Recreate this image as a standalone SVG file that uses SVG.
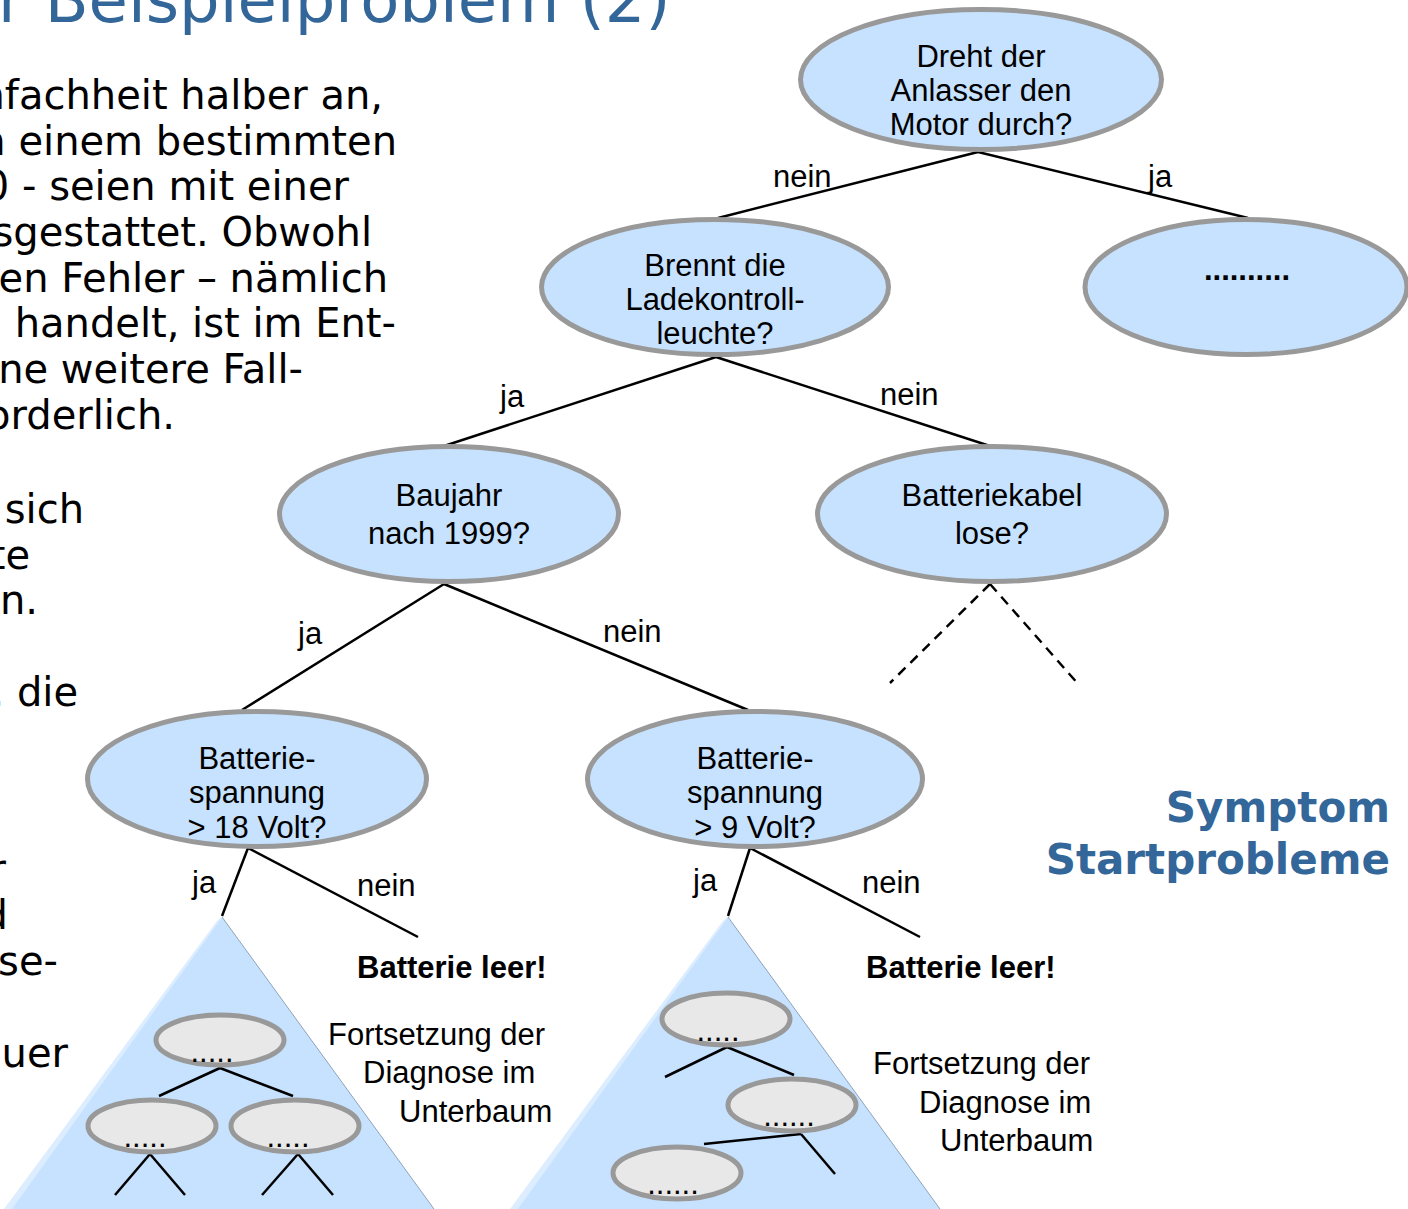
<svg xmlns="http://www.w3.org/2000/svg" width="1408" height="1209" viewBox="0 0 1408 1209">
  <style>
    .body { font-family: "DejaVu Sans", Verdana, sans-serif; font-size: 40px; fill: #000; text-anchor: end; }
    .title { font-family: "DejaVu Sans", Verdana, sans-serif; font-size: 64px; fill: #336699; }
    .symptom { font-family: "DejaVu Sans", Verdana, sans-serif; font-weight: bold; font-size: 42px; fill: #336699; text-anchor: end; }
    .node ellipse { fill: #C6E2FF; stroke: #999999; stroke-width: 5; }
    .sub ellipse { fill: #E8E8E8; stroke: #999999; stroke-width: 5; }
    .lbl { font-family: "Liberation Sans", Arial, sans-serif; font-size: 31px; fill: #000; }
    .c { text-anchor: middle; }
    .b { font-weight: bold; }
    .edge { stroke: #000; stroke-width: 2.5; fill: none; }
    .dash { stroke: #000; stroke-width: 2.5; fill: none; stroke-dasharray: 10 7; }
    .tri { fill: #C6E2FF; }
    .tri-hi { fill: #DCEDFF; }
    .tri-edge { stroke: #8FA3B8; stroke-width: 1; fill: none; }
  </style>

  <!-- slide title (cut at the top) -->
  <text class="title" x="-2" y="22">r Beispielproblem (2)</text>

  <!-- body text column, right edges aligned -->
  <g id="body-text">
    <text class="body" x="383" y="109">nfachheit halber an,</text>
    <text class="body" x="397" y="155">n einem bestimmten</text>
    <text class="body" x="349" y="200">0 - seien mit einer</text>
    <text class="body" x="372" y="246">sgestattet. Obwohl</text>
    <text class="body" x="388" y="292">en Fehler – nämlich</text>
    <text class="body" x="396" y="337">n handelt, ist im Ent-</text>
    <text class="body" x="303" y="383">ne weitere Fall-</text>
    <text class="body" x="175" y="429">orderlich.</text>
    <text class="body" x="84" y="523">sich</text>
    <text class="body" x="30" y="569">te</text>
    <text class="body" x="38" y="614">n.</text>
    <text class="body" x="78" y="706">. die</text>
    <text class="body" x="6" y="883">r</text>
    <text class="body" x="8" y="929">d</text>
    <text class="body" x="58" y="975">se-</text>
    <text class="body" x="68" y="1067">uer</text>
  </g>

  <text class="symptom" x="1390" y="822">Symptom</text>
  <text class="symptom" x="1390" y="874">Startprobleme</text>

  <!-- subtree triangles -->
  <g id="subtree-left">
    <polygon class="tri-hi" points="217,921 4,1209 14,1209 222,917"/>
    <polygon class="tri" points="222,917 12,1209 434,1209"/>
    <line class="tri-edge" x1="222" y1="917" x2="434" y2="1209"/>
    <g class="edge-set">
      <line class="edge" x1="220" y1="1068" x2="159" y2="1096"/>
      <line class="edge" x1="220" y1="1068" x2="293" y2="1096"/>
      <line class="edge" x1="150" y1="1154" x2="115" y2="1195"/>
      <line class="edge" x1="150" y1="1154" x2="185" y2="1195"/>
      <line class="edge" x1="298" y1="1154" x2="262" y2="1195"/>
      <line class="edge" x1="298" y1="1154" x2="333" y2="1195"/>
    </g>
    <g class="sub" id="sub-l1"><ellipse cx="220" cy="1040" rx="64" ry="25"/><text class="lbl c" x="212" y="1062">.....</text></g>
    <g class="sub" id="sub-l2"><ellipse cx="152" cy="1126" rx="64" ry="26"/><text class="lbl c" x="145" y="1147">.....</text></g>
    <g class="sub" id="sub-l3"><ellipse cx="295" cy="1126" rx="64" ry="26"/><text class="lbl c" x="288" y="1147">.....</text></g>
  </g>

  <g id="subtree-right">
    <polygon class="tri-hi" points="723,921 510,1209 520,1209 728,917"/>
    <polygon class="tri" points="728,917 518,1209 940,1209"/>
    <line class="tri-edge" x1="728" y1="917" x2="940" y2="1209"/>
    <g class="edge-set">
      <line class="edge" x1="727" y1="1047" x2="665" y2="1077"/>
      <line class="edge" x1="727" y1="1047" x2="794" y2="1075"/>
      <line class="edge" x1="801" y1="1134" x2="704" y2="1144"/>
      <line class="edge" x1="801" y1="1134" x2="835" y2="1174"/>
    </g>
    <g class="sub" id="sub-r1"><ellipse cx="726" cy="1019" rx="64" ry="26"/><text class="lbl c" x="718" y="1041">.....</text></g>
    <g class="sub" id="sub-r2"><ellipse cx="792" cy="1105" rx="64" ry="26"/><text class="lbl c" x="789" y="1126">......</text></g>
    <g class="sub" id="sub-r3"><ellipse cx="677" cy="1173" rx="64" ry="26"/><text class="lbl c" x="673" y="1194">......</text></g>
  </g>

  <!-- connectors -->
  <g id="connectors">
    <line class="edge" x1="978" y1="152" x2="718" y2="218"/>
    <line class="edge" x1="978" y1="152" x2="1248" y2="218"/>
    <line class="edge" x1="716" y1="357" x2="444" y2="446"/>
    <line class="edge" x1="716" y1="357" x2="990" y2="446"/>
    <line class="edge" x1="444" y1="584" x2="242" y2="710"/>
    <line class="edge" x1="444" y1="584" x2="748" y2="710"/>
    <line class="dash" x1="990" y1="584" x2="890" y2="683"/>
    <line class="dash" x1="990" y1="584" x2="1079" y2="685"/>
    <line class="edge" x1="248" y1="848" x2="222" y2="916"/>
    <line class="edge" x1="248" y1="848" x2="418" y2="937"/>
    <line class="edge" x1="750" y1="848" x2="728" y2="916"/>
    <line class="edge" x1="750" y1="848" x2="920" y2="937"/>

    <text class="lbl" x="773" y="187">nein</text>
    <text class="lbl" x="1148" y="187">ja</text>
    <text class="lbl" x="500" y="407">ja</text>
    <text class="lbl" x="880" y="405">nein</text>
    <text class="lbl" x="298" y="644">ja</text>
    <text class="lbl" x="603" y="642">nein</text>
    <text class="lbl" x="192" y="893">ja</text>
    <text class="lbl" x="357" y="896">nein</text>
    <text class="lbl" x="693" y="891">ja</text>
    <text class="lbl" x="862" y="893">nein</text>
  </g>

  <!-- decision nodes -->
  <g class="node" id="n-anlasser">
    <ellipse cx="981" cy="79.5" rx="180.5" ry="70"/>
    <text class="lbl c" x="981" y="67">Dreht der</text>
    <text class="lbl c" x="981" y="101">Anlasser den</text>
    <text class="lbl c" x="981" y="135">Motor durch?</text>
  </g>
  <g class="node" id="n-ladekontrolle">
    <ellipse cx="715" cy="287" rx="173.5" ry="67.5"/>
    <text class="lbl c" x="715" y="276">Brennt die</text>
    <text class="lbl c" x="715" y="310">Ladekontroll-</text>
    <text class="lbl c" x="715" y="344">leuchte?</text>
  </g>
  <g class="node" id="n-ja-zweig">
    <ellipse cx="1246" cy="287" rx="161" ry="67.5"/>
    <text class="lbl c b" x="1247" y="280">..........</text>
  </g>
  <g class="node" id="n-baujahr">
    <ellipse cx="449" cy="514" rx="169.5" ry="67.5"/>
    <text class="lbl c" x="449" y="506">Baujahr</text>
    <text class="lbl c" x="449" y="544">nach 1999?</text>
  </g>
  <g class="node" id="n-batteriekabel">
    <ellipse cx="992" cy="514" rx="174.5" ry="67.5"/>
    <text class="lbl c" x="992" y="506">Batteriekabel</text>
    <text class="lbl c" x="992" y="544">lose?</text>
  </g>
  <g class="node" id="n-spannung18">
    <ellipse cx="257" cy="779" rx="169.5" ry="67.5"/>
    <text class="lbl c" x="257" y="769">Batterie-</text>
    <text class="lbl c" x="257" y="803">spannung</text>
    <text class="lbl c" x="257" y="838">&gt; 18 Volt?</text>
  </g>
  <g class="node" id="n-spannung9">
    <ellipse cx="755" cy="779" rx="167.5" ry="67.5"/>
    <text class="lbl c" x="755" y="769">Batterie-</text>
    <text class="lbl c" x="755" y="803">spannung</text>
    <text class="lbl c" x="755" y="838">&gt; 9 Volt?</text>
  </g>

  <!-- leaves and notes -->
  <g id="leaf-left">
    <text class="lbl b" x="357" y="978">Batterie leer!</text>
  </g>
  <g id="leaf-right">
    <text class="lbl b" x="866" y="978">Batterie leer!</text>
  </g>
  <g id="note-left">
    <text class="lbl" x="328" y="1045">Fortsetzung der</text>
    <text class="lbl" x="363" y="1083">Diagnose im</text>
    <text class="lbl" x="399" y="1122">Unterbaum</text>
  </g>
  <g id="note-right">
    <text class="lbl" x="873" y="1074">Fortsetzung der</text>
    <text class="lbl" x="919" y="1113">Diagnose im</text>
    <text class="lbl" x="940" y="1151">Unterbaum</text>
  </g>
</svg>
